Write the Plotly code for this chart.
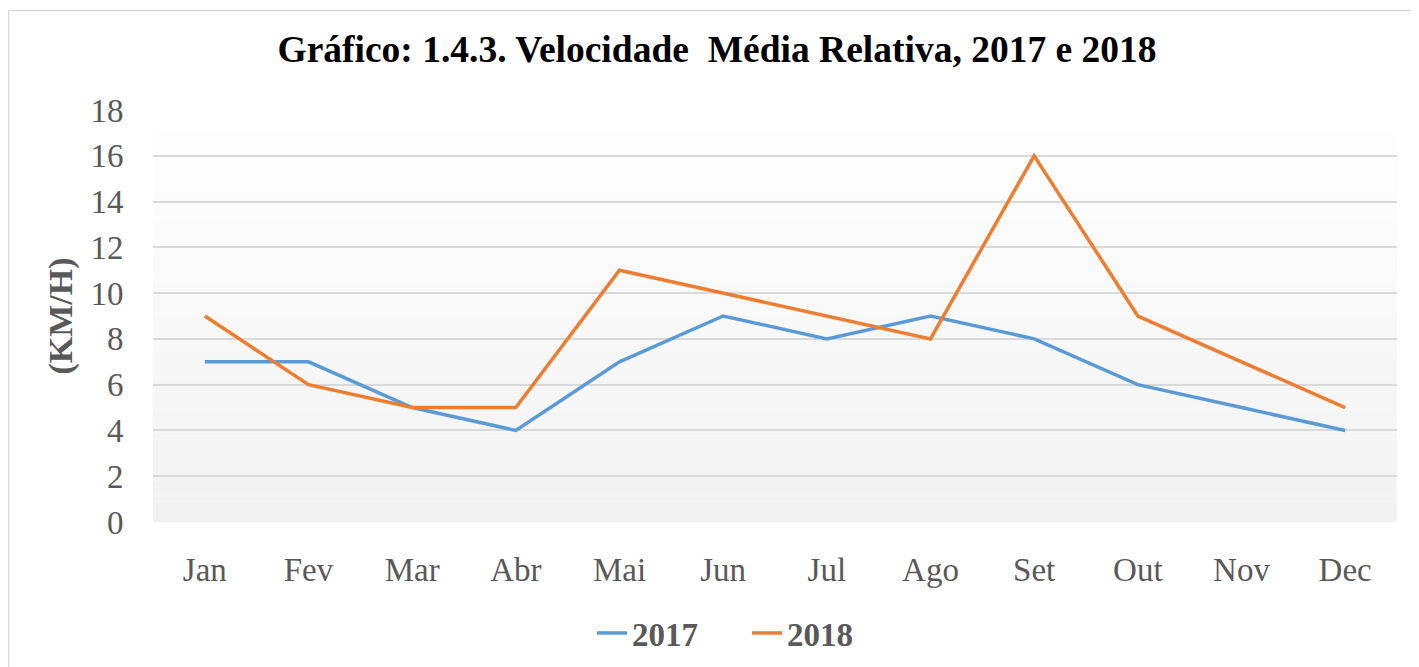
import plotly.graph_objects as go

months = ["Jan", "Fev", "Mar", "Abr", "Mai", "Jun", "Jul", "Ago", "Set", "Out", "Nov", "Dec"]
v2017 = [7, 7, 5, 4, 7, 9, 8, 9, 8, 6, 5, 4]
v2018 = [9, 6, 5, 5, 11, 10, 9, 8, 16, 9, 7, 5]
y_ticks = [0, 2, 4, 6, 8, 10, 12, 14, 16, 18]

# page body has an 8px margin: figure coordinates = screen coordinates - 8
OFF = 8
W, H = 1419 - OFF, 667 - OFF
L, R, T, B = 153 - OFF, 1397 - OFF, 110 - OFF, 522 - OFF
pw, ph = R - L, B - T

SERIF = "Liberation Serif, Times New Roman, serif"
GREY = "#595959"

fig = go.Figure()
fig.add_trace(go.Scatter(x=months, y=v2017, mode="lines", name="<b>2017</b>",
                         line=dict(color="#5B9BD5", width=3.5)))
fig.add_trace(go.Scatter(x=months, y=v2018, mode="lines", name="<b>2018</b>",
                         line=dict(color="#ED7D31", width=3.5)))

# gradient background
n = 60
shapes = []
for i in range(n):
    t = i / (n - 1)
    c = int(round(255 - (255 - 242) * t))
    shapes.append(dict(type="rect", xref="x domain", yref="y domain",
                       x0=0, x1=1, y0=1 - (i + 1) / n, y1=1 - i / n,
                       fillcolor=f"rgb({c},{c},{c})", line=dict(width=0),
                       layer="below"))
# outer chart border
shapes.append(dict(type="rect", xref="paper", yref="paper",
                   x0=(8.5 - OFF - L) / pw, x1=(W + 20 - L) / pw,
                   y0=(B - (H + 20)) / ph, y1=(B - (10.5 - OFF)) / ph,
                   line=dict(color="#d9d9d9", width=1.5), fillcolor="rgba(0,0,0,0)",
                   layer="above"))

fig.update_layout(
    width=W, height=H,
    margin=dict(l=L, r=W - R, t=T, b=H - B, autoexpand=False),
    paper_bgcolor="white", plot_bgcolor="rgba(0,0,0,0)",
    shapes=shapes,
    title=dict(text="<b>Gráfico: 1.4.3. Velocidade  Média Relativa, 2017 e 2018</b>",
               x=(717 - OFF) / W, xanchor="center", y=1 - (49 - OFF) / H, yanchor="middle",
               automargin=False,
               font=dict(family=SERIF, size=37.5, color="black")),
    showlegend=True,
    legend=dict(orientation="h", x=(747 - OFF - L) / pw, xanchor="center",
                y=(B - (633 - OFF)) / ph, yanchor="middle",
                entrywidth=110, entrywidthmode="pixels",
                font=dict(family=SERIF, size=33, color=GREY),
                bgcolor="rgba(0,0,0,0)"),
    font=dict(family=SERIF, color=GREY),
)
fig.update_xaxes(type="category", categoryorder="array", categoryarray=months,
                 range=[-0.5, 11.5], showgrid=False, showline=False, zeroline=False,
                 automargin=False,
                 ticks="outside", ticklen=18, tickcolor="rgba(0,0,0,0)",
                 tickfont=dict(family=SERIF, size=33, color=GREY))
fig.update_yaxes(range=[0, 18], tickvals=y_ticks, showgrid=True, gridcolor="#d9d9d9",
                 gridwidth=1.5, zeroline=False, showline=False, automargin=False,
                 ticks="outside", ticklen=22, tickcolor="rgba(0,0,0,0)",
                 tickfont=dict(family=SERIF, size=33, color=GREY),
                 title=dict(text="<b>(KM/H)</b>", standoff=7,
                            font=dict(family=SERIF, size=34, color=GREY)))

fig.write_html("out.html")
